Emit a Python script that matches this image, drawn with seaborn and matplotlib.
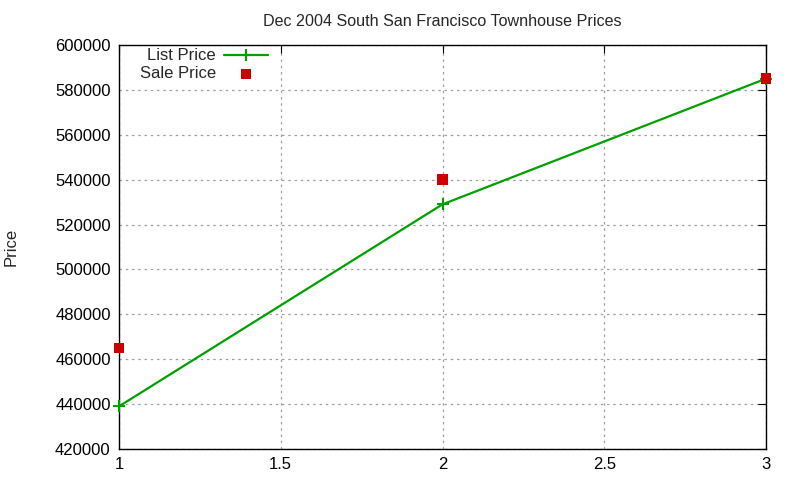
import pandas as pd
import matplotlib.pyplot as plt
import seaborn as sns

sns.set_style('white')
plt.rcParams['font.family'] = ['Liberation Sans', 'DejaVu Sans']

x_vals = [1, 2, 3]
list_price = [439000, 529000, 585000]
sale_price = [465000, 540000, 585000]

df = pd.DataFrame({'x': x_vals, 'List Price': list_price, 'Sale Price': sale_price})

fig = plt.figure(figsize=(8, 4.8), dpi=100)
ax = fig.add_axes([0.14875, 0.0646, 0.80875, 0.8417])

sns.lineplot(x='x', y='List Price', data=df, ax=ax, color='#00a000', linewidth=1.6,
             marker='+', markersize=9, markeredgewidth=1.5, markeredgecolor='#00a000',
             label='List Price', clip_on=False, zorder=3)
sns.scatterplot(x='x', y='Sale Price', data=df, ax=ax, color='#cc0000', marker='s',
                s=55, edgecolor='none', label='Sale Price', zorder=4, clip_on=False)

ax.set_xlim(1, 3)
ax.set_ylim(420000, 600000)
ax.set_xticks([1, 1.5, 2, 2.5, 3])
ax.set_xticklabels(['1', '1.5', '2', '2.5', '3'])
ax.set_yticks(range(420000, 600001, 20000))
ax.set_yticklabels([str(v) for v in range(420000, 600001, 20000)])
ax.grid(True, color='#a0a0a0', linestyle=(0, (2, 3)), linewidth=0.9)
ax.tick_params(direction='in', length=6, labelsize=12, colors='black', top=True, right=True,
               pad=6)
for s in ax.spines.values():
    s.set_color('black')
    s.set_linewidth(1)
ax.set_xlabel('')
ax.set_ylabel('Price', fontsize=12, labelpad=26)
ax.set_title('Dec 2004 South San Francisco Townhouse Prices', fontsize=11.6, pad=14)

leg = ax.legend(loc='upper left', bbox_to_anchor=(0.022, 1.008), frameon=False, fontsize=12,
                markerfirst=False, handlelength=2.6, borderaxespad=0.0, labelspacing=0.18,
                handletextpad=0.5)
leg._legend_box.align = 'right'
for t in leg.get_texts():
    t.set_ha('right')

fig.savefig('out.png', dpi=100)
